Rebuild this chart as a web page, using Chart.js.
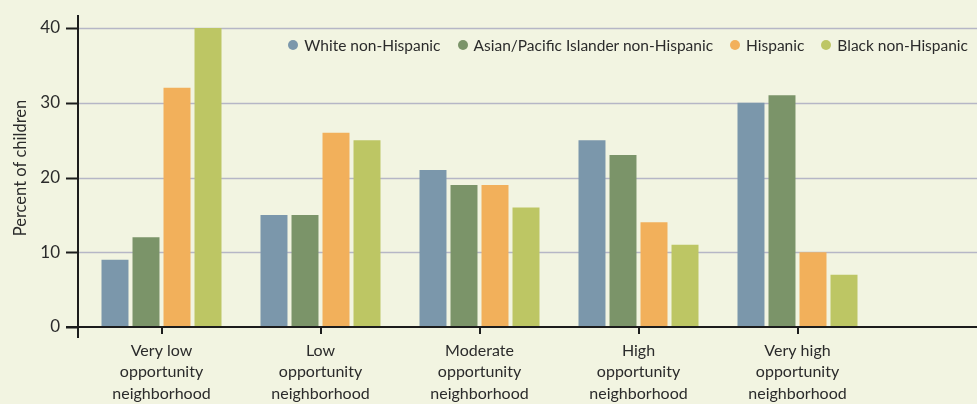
<!DOCTYPE html>
<html>
<head>
<meta charset="utf-8">
<script src="https://cdn.jsdelivr.net/npm/chart.js@4.4.1/dist/chart.umd.min.js"></script>
<style>
  html, body { margin: 0; padding: 0; background: #f2f4e1; }
  #wrap { position: relative; width: 977px; height: 404px; }
  #legend {
    position: absolute; top: 36px; right: 9px;
    display: flex; gap: 17px;
    font-family: Lato, "Open Sans", sans-serif; font-size: 15.5px; color: #2b2b2b;
  }
  #legend span { display: flex; align-items: center; white-space: nowrap; }
  #legend i { display: inline-block; width: 10px; height: 10px; border-radius: 50%; margin-right: 6px; }
</style>
</head>
<body>
<div id="wrap">
  <canvas id="oppChart"></canvas>
  <div id="legend"></div>
</div>
<script>
const categories = [
    ['Very low', 'opportunity', 'neighborhood'],
    ['Low', 'opportunity', 'neighborhood'],
    ['Moderate', 'opportunity', 'neighborhood'],
    ['High', 'opportunity', 'neighborhood'],
    ['Very high', 'opportunity', 'neighborhood']
];
const seriesNames = ['White non-Hispanic', 'Asian/Pacific Islander non-Hispanic', 'Hispanic', 'Black non-Hispanic'];
const whiteValues = [9, 15, 21, 25, 30];
const asianValues = [12, 15, 19, 23, 31];
const hispanicValues = [32, 26, 19, 14, 10];
const blackValues = [40, 25, 16, 11, 7];
const yTickValues = [0, 10, 20, 30, 40];
const yTitle = 'Percent of children';

const colors = ['#7b97ab', '#7b9469', '#f2b05b', '#bdc664'];
const allValues = [whiteValues, asianValues, hispanicValues, blackValues];

// legend as plain html, it sits inside the plot area in the original
const legendEl = document.getElementById('legend');
seriesNames.forEach((name, i) => {
    const item = document.createElement('span');
    item.innerHTML = '<i style="background:' + colors[i] + '"></i>' + name;
    legendEl.appendChild(item);
});

// gridlines and axis lines run past the plot area, so draw them here
const axisFrame = {
    id: 'axisFrame',
    beforeDatasetsDraw(chart) {
        const { ctx, scales: { y } } = chart;
        const axisX = chart.chartArea.left - 4;
        ctx.save();
        yTickValues.forEach(v => {
            const py = Math.round(y.getPixelForValue(v)) + 0.5;
            if (v > 0) {
                ctx.strokeStyle = '#b6b6c6';
                ctx.lineWidth = 1.5;
                ctx.beginPath();
                ctx.moveTo(axisX, py);
                ctx.lineTo(chart.width, py);
                ctx.stroke();
            }
            ctx.strokeStyle = '#1c1c1c';
            ctx.lineWidth = 2;
            ctx.beginPath();
            ctx.moveTo(axisX - 12, py);
            ctx.lineTo(axisX, py);
            ctx.stroke();
        });
        // axis title sits a bit above the middle of the plot
        ctx.translate(21, 168);
        ctx.rotate(-Math.PI / 2);
        ctx.font = '16.5px Lato';
        ctx.fillStyle = '#2b2b2b';
        ctx.textAlign = 'center';
        ctx.textBaseline = 'middle';
        ctx.fillText(yTitle, 0, 0);
        ctx.restore();
    },
    afterDatasetsDraw(chart) {
        const { ctx, scales: { y } } = chart;
        const axisX = chart.chartArea.left - 4;
        const zeroY = Math.round(y.getPixelForValue(0));
        ctx.save();
        ctx.strokeStyle = '#1c1c1c';
        ctx.lineWidth = 2;
        ctx.beginPath();
        ctx.moveTo(axisX, 15);
        ctx.lineTo(axisX, zeroY + 11);
        ctx.moveTo(axisX - 12, zeroY);
        ctx.lineTo(chart.width, zeroY);
        ctx.stroke();
        ctx.restore();
    }
};

new Chart(document.getElementById('oppChart'), {
    type: 'bar',
    data: {
        labels: categories,
        datasets: seriesNames.map((name, i) => ({
            label: name,
            data: allValues[i],
            backgroundColor: colors[i],
            borderWidth: 0,
            categoryPercentage: 0.78,
            barPercentage: 0.87
        }))
    },
    options: {
        responsive: true,
        maintainAspectRatio: false,
        animation: false,
        layout: { padding: { top: 28, right: 100, left: 0, bottom: 0 } },
        plugins: { legend: { display: false }, tooltip: { enabled: false } },
        scales: {
            x: {
                grid: { display: true, drawOnChartArea: false, drawTicks: true, tickLength: 7, color: '#1c1c1c', lineWidth: 2, offset: false },
                border: { display: false },
                ticks: {
                    font: { family: 'Lato', size: 16, lineHeight: 1.34 },
                    color: '#2b2b2b',
                    padding: 6,
                    maxRotation: 0,
                    autoSkip: false
                },
                afterFit: s => { s.height = 77; s.paddingTop = 0; s.paddingBottom = 0; }
            },
            y: {
                min: 0,
                max: 40,
                afterBuildTicks: s => { s.ticks = yTickValues.map(v => ({ value: v })); },
                grid: { display: false, drawTicks: false },
                border: { display: false },
                ticks: { font: { family: 'Lato', size: 17 }, color: '#2b2b2b', padding: 22 },
                afterFit: s => { s.width = 82; s.paddingTop = 0; s.paddingBottom = 0; }
            }
        }
    },
    plugins: [axisFrame]
});
</script>
</body>
</html>
